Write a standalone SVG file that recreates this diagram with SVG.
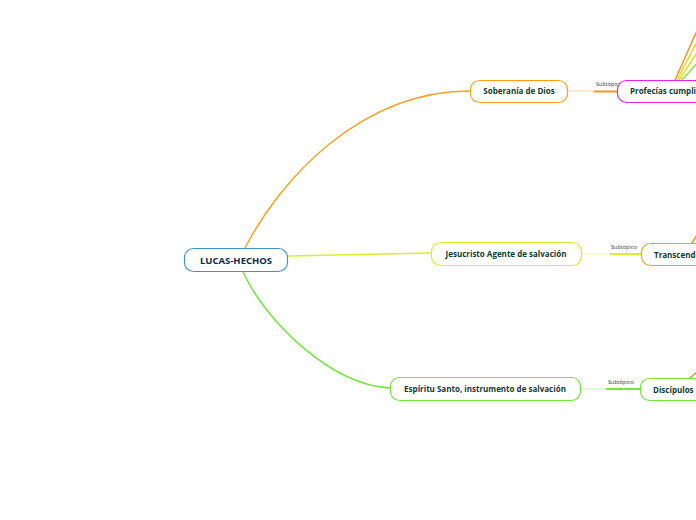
<svg xmlns="http://www.w3.org/2000/svg" width="696" height="520" viewBox="0 0 696 520">
<style>
.box{fill:#fff;stroke-width:1.2}
.t{font-family:"Open Sans","Liberation Sans",sans-serif;font-weight:700;font-size:8px;fill:#0f3d33;text-anchor:middle}
.tl{font-family:"Open Sans","Liberation Sans",sans-serif;font-weight:700;font-size:8px;fill:#0f3d33}
.sub{font-family:"Open Sans","Liberation Sans",sans-serif;font-size:5.5px;fill:#333}
.c{fill:none;stroke-linecap:round}
</style>
<rect width="696" height="520" fill="#fff"/>
<g id="connectors">
  <path class="c" d="M245,248 C280,180 360,91 470,91" stroke="#f9a21e" stroke-width="1.5"/>
  <path class="c" d="M288,256 L431,253" stroke="#d6f226" stroke-width="1.5"/>
  <path class="c" d="M243,272 C265,320 330,385 390,388" stroke="#72e83c" stroke-width="1.5"/>
  <path class="c" d="M568,91 L595,91" stroke="#fcd9a4" stroke-width="1"/>
  <path class="c" d="M595,91.5 L618,91.5" stroke="#f7941e" stroke-width="2"/>
  <text class="sub" x="596" y="86">Subtópico</text>
  <path class="c" d="M582,254 L611,254" stroke="#eefab0" stroke-width="1"/>
  <path class="c" d="M611,254 L642,254" stroke="#d6f226" stroke-width="2"/>
  <text class="sub" x="611" y="249">Subtópico</text>
  <path class="c" d="M581,389 L607,389" stroke="#c5f5ae" stroke-width="1"/>
  <path class="c" d="M607,389 L640,389" stroke="#72e83c" stroke-width="2"/>
  <text class="sub" x="608" y="384">Subtópico</text>
  <path class="c" d="M675,80 L700,24" stroke="#f7941e" stroke-width="1.5"/>
  <path class="c" d="M677,80 L700,36" stroke="#f5d21e" stroke-width="1.5"/>
  <path class="c" d="M679,80 L700,48" stroke="#c9ef22" stroke-width="1.5"/>
  <path class="c" d="M682,80 L700,60" stroke="#8fe83a" stroke-width="1.5"/>
  <path class="c" d="M692,243 L698,233" stroke="#f7941e" stroke-width="1.5"/>
  <path class="c" d="M690,378 L698,371" stroke="#f7941e" stroke-width="1.5"/>
</g>
<g id="root">
  <rect class="box" x="184.5" y="248.5" width="103" height="23" rx="9" stroke="#3f8fd2"/>
  <text x="236" y="263.5" text-anchor="middle" font-family="'Open Sans','Liberation Sans',sans-serif" font-weight="700" font-size="9.5px" fill="#0d2a4d">LUCAS-HECHOS</text>
</g>
<g id="soberania">
  <rect class="box" x="470.5" y="80.5" width="97" height="22" rx="9" stroke="#f9a21e"/>
  <text class="t" x="519" y="94">Soberanía de Dios</text>
</g>
<g id="profecias">
  <rect class="box" x="617.5" y="80.5" width="110" height="22" rx="9" stroke="#e524e5"/>
  <text class="tl" x="630" y="94">Profecías cumpli</text>
</g>
<g id="jesucristo">
  <rect class="box" x="431.5" y="242.5" width="150" height="23" rx="9" stroke="#d6f226"/>
  <text class="t" x="506" y="257">Jesucristo Agente de salvación</text>
</g>
<g id="transcend">
  <rect class="box" x="641.5" y="243.5" width="100" height="22" rx="9" stroke="#f9a21e"/>
  <text class="tl" x="654" y="257.5">Transcend</text>
</g>
<g id="espiritu">
  <rect class="box" x="390.5" y="377.5" width="190" height="23" rx="9" stroke="#72e83c"/>
  <text class="t" x="485" y="392">Espíritu Santo, instrumento de salvación</text>
</g>
<g id="discipulos">
  <rect class="box" x="640.5" y="378.5" width="100" height="22" rx="9" stroke="#72e83c"/>
  <text class="tl" x="653" y="392.5">Discípulos</text>
</g>
</svg>
